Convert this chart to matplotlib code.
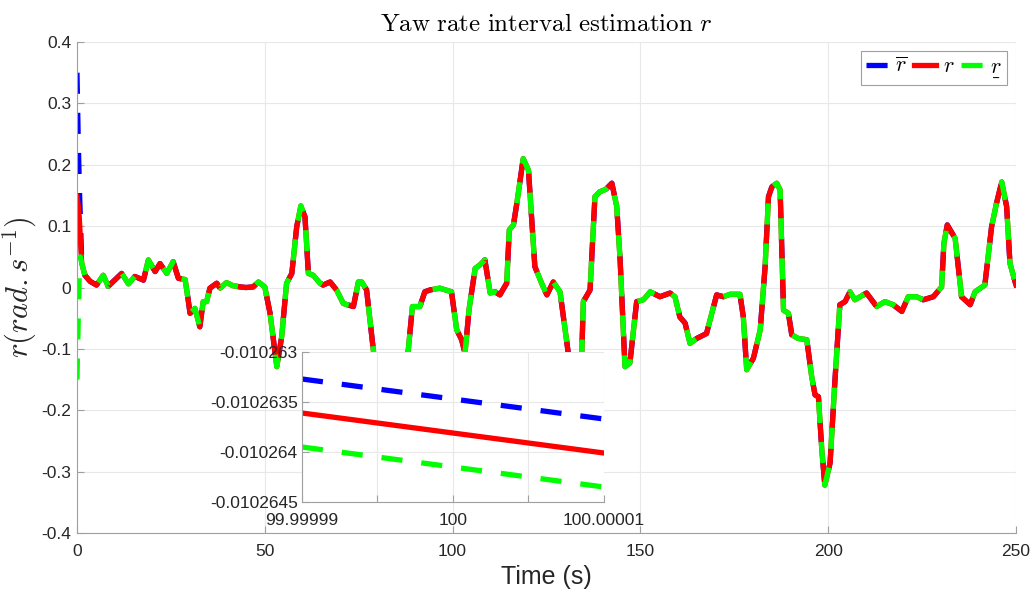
import numpy as np
import matplotlib
matplotlib.use("Agg")
import matplotlib.pyplot as plt

plt.rcParams["font.family"] = ["Liberation Sans", "DejaVu Sans"]
plt.rcParams["mathtext.fontset"] = "cm"
plt.rcParams["axes.unicode_minus"] = False

# yaw rate r (rad/s)
t = [0, 0.3, 0.6, 0.9, 1.25, 2.1, 3.5, 5.2, 7.0, 8.3,
     10.0, 11.9, 13.7, 15.4, 17.7, 19.0, 20.8, 22.1, 23.9, 25.6,
     27.0, 28.8, 29.6, 30.1, 31.4, 32.7, 33.6, 34.5, 35.4, 37.2,
     38.1, 39.8, 41.5, 43.4, 45.0, 46.9, 48.3, 50.0, 51.4, 53.2,
     54.5, 55.8, 57.2, 58.5, 59.6, 60.7, 61.6, 62.9, 64.7, 65.5,
     67.4, 69.1, 70.9, 73.6, 74.9, 75.8, 77.1, 78.0, 78.9, 80.0,
     81.5, 83.0, 85.0, 87.0, 88.2, 89.3, 91.3, 92.6, 94.0, 96.6,
     99.7, 101.1, 102.4, 103.3, 104.4, 106.0, 107.3, 108.6, 110.0, 111.3,
     112.6, 114.4, 115.1, 116.2, 117.1, 118.8, 120.2, 121.9, 123.7, 125.1,
     126.8, 128.6, 130.8, 132.0, 133.2, 134.4, 134.8, 136.6, 137.9, 139.2,
     140.8, 142.4, 143.7, 144.6, 145.9, 147.2, 149.0, 150.8, 152.6, 155.2,
     157.9, 159.2, 160.5, 161.9, 163.2, 165.0, 167.6, 169.0, 170.3, 172.1,
     173.9, 176.5, 177.4, 178.3, 180.1, 181.9, 183.2, 184.1, 185.0, 186.3,
     187.2, 188.1, 189.4, 190.3, 192.0, 194.3, 195.6, 196.5, 197.4, 198.3,
     199.1, 200.5, 201.8, 203.1, 204.5, 205.8, 207.1, 210.2, 212.9, 215.1,
     217.3, 219.6, 221.3, 223.5, 225.3, 228.0, 230.2, 230.8, 231.7, 233.8,
     235.5, 237.8, 239.1, 241.7, 243.5, 244.8, 246.2, 247.5, 248.4, 250.0]

r = [0.148, 0.135, 0.115, 0.080, 0.040, 0.020, 0.010, 0.004, 0.020, 0.002,
     0.012, 0.023, 0.006, 0.018, 0.012, 0.045, 0.026, 0.039, 0.023, 0.042,
     0.015, 0.013, -0.020, -0.042, -0.034, -0.064, -0.023, -0.023, -0.001, 0.007,
     -0.001, 0.008, 0.003, 0.001, 0.000, 0.001, 0.009, 0.001, -0.042, -0.129,
     -0.080, 0.007, 0.023, 0.099, 0.133, 0.115, 0.023, 0.020, 0.007, 0.004,
     0.009, -0.004, -0.026, -0.031, 0.009, 0.009, -0.004, -0.053, -0.102, -0.160,
     -0.210, -0.230, -0.200, -0.130, -0.102, -0.031, -0.031, -0.007, -0.004, -0.001,
     -0.007, -0.069, -0.085, -0.107, -0.035, 0.031, 0.037, 0.045, -0.009, -0.007,
     -0.012, 0.007, 0.094, 0.102, 0.137, 0.210, 0.191, 0.034, 0.007, -0.012,
     0.009, -0.007, -0.107, -0.150, -0.140, -0.107, -0.023, -0.004, 0.148, 0.156,
     0.160, 0.170, 0.132, 0.045, -0.129, -0.123, -0.023, -0.020, -0.007, -0.015,
     -0.009, -0.015, -0.048, -0.058, -0.091, -0.083, -0.075, -0.042, -0.012, -0.015,
     -0.011, -0.011, -0.048, -0.134, -0.115, -0.069, 0.034, 0.148, 0.164, 0.170,
     0.159, -0.037, -0.042, -0.077, -0.083, -0.085, -0.145, -0.175, -0.178, -0.265,
     -0.322, -0.286, -0.151, -0.028, -0.023, -0.007, -0.020, -0.009, -0.031, -0.023,
     -0.028, -0.039, -0.015, -0.015, -0.020, -0.015, 0.001, 0.072, 0.102, 0.080,
     -0.015, -0.028, -0.007, 0.004, 0.099, 0.137, 0.172, 0.132, 0.039, 0.004]

# bounds differ from r only during the first second
r_up_head = [0.35, 0.25, 0.17, 0.11, 0.045]
r_lo_head = [-0.15, -0.06, 0.02, 0.05, 0.04]

# zoomed window around t = 100 s
t_zoom = [99.99999, 100.00001]
r_zoom = [-0.01026361, -0.01026401]
r_up_zoom = [-0.01026327, -0.01026367]
r_lo_zoom = [-0.01026395, -0.01026435]

r_up = r_up_head + r[len(r_up_head):]
r_lo = r_lo_head + r[len(r_lo_head):]

BLUE, RED, GREEN = "#0000ff", "#ff0000", "#00ff00"
LW = 3.8
DASH = (4, 3.6)
GRID = "#e8e8e8"
AXC = "#a0a0a0"
TXT = "#262626"


def style_axes(ax):
    for s in ("top", "right"):
        ax.spines[s].set_visible(False)
    for s in ("left", "bottom"):
        ax.spines[s].set_color(AXC)
        ax.spines[s].set_linewidth(0.8)
    ax.grid(True, color=GRID, linewidth=0.8)
    ax.set_axisbelow(True)
    ax.tick_params(direction="in", length=5, color=AXC, labelcolor=TXT, labelsize=12.5)


fig = plt.figure(figsize=(10.32, 5.97), dpi=100)
ax = fig.add_axes([0.0746, 0.1072, 0.9099, 0.8224])
style_axes(ax)
ax.tick_params(axis="y", pad=4)
ax.tick_params(axis="x", pad=8)

ax.plot(t, r_up, color=BLUE, lw=LW, dashes=DASH, label=r"$\overline{r}$")
ax.plot(t, r, color=RED, lw=LW, label=r"$r$")
ax.plot(t, r_lo, color=GREEN, lw=LW, dashes=DASH, label=r"$\underset{\_}{r}$")

ax.set_xlim(0, 250)
ax.set_ylim(-0.4, 0.4)
ax.set_xticks(np.arange(0, 251, 50))
ax.set_yticks(np.round(np.arange(-0.4, 0.41, 0.1), 1))
ax.set_yticklabels(["-0.4", "-0.3", "-0.2", "-0.1", "0", "0.1", "0.2", "0.3", "0.4"])

ax.set_title(r"$\mathrm{Yaw\ rate\ interval\ estimation}\ r$", fontsize=18, pad=8)
ax.set_xlabel("Time (s)", fontsize=18, color=TXT, labelpad=4)
ax.set_ylabel(r"$r(rad.s^{-1})$", fontsize=22, color=TXT, labelpad=2)

leg = ax.legend(loc="upper right", ncol=3, fontsize=16, handlelength=1.0,
                handletextpad=0.3, columnspacing=0.3, borderpad=0.25,
                borderaxespad=0.4, fancybox=False, framealpha=1)
leg.get_frame().set_edgecolor(AXC)
leg.get_frame().set_linewidth(0.8)

# inset
axi = fig.add_axes([0.2926, 0.1591, 0.2926, 0.2513])
style_axes(axi)
axi.plot(t_zoom, r_up_zoom, color=BLUE, lw=LW, dashes=DASH)
axi.plot(t_zoom, r_zoom, color=RED, lw=LW)
axi.plot(t_zoom, r_lo_zoom, color=GREEN, lw=LW, dashes=DASH)
axi.set_xlim(99.99999, 100.00001)
axi.set_ylim(-0.0102645, -0.010263)
axi.set_xticks([99.99999, 99.999995, 100.0, 100.000005, 100.00001])
axi.set_xticklabels(["99.99999", "", "100", "", "100.00001"])
axi.set_yticks([-0.0102645, -0.010264, -0.0102635, -0.010263])
axi.set_yticklabels(["-0.0102645", "-0.010264", "-0.0102635", "-0.010263"])
axi.tick_params(axis="x", pad=8)
axi.tick_params(axis="y", pad=3)

fig.savefig("out.png", dpi=100)
